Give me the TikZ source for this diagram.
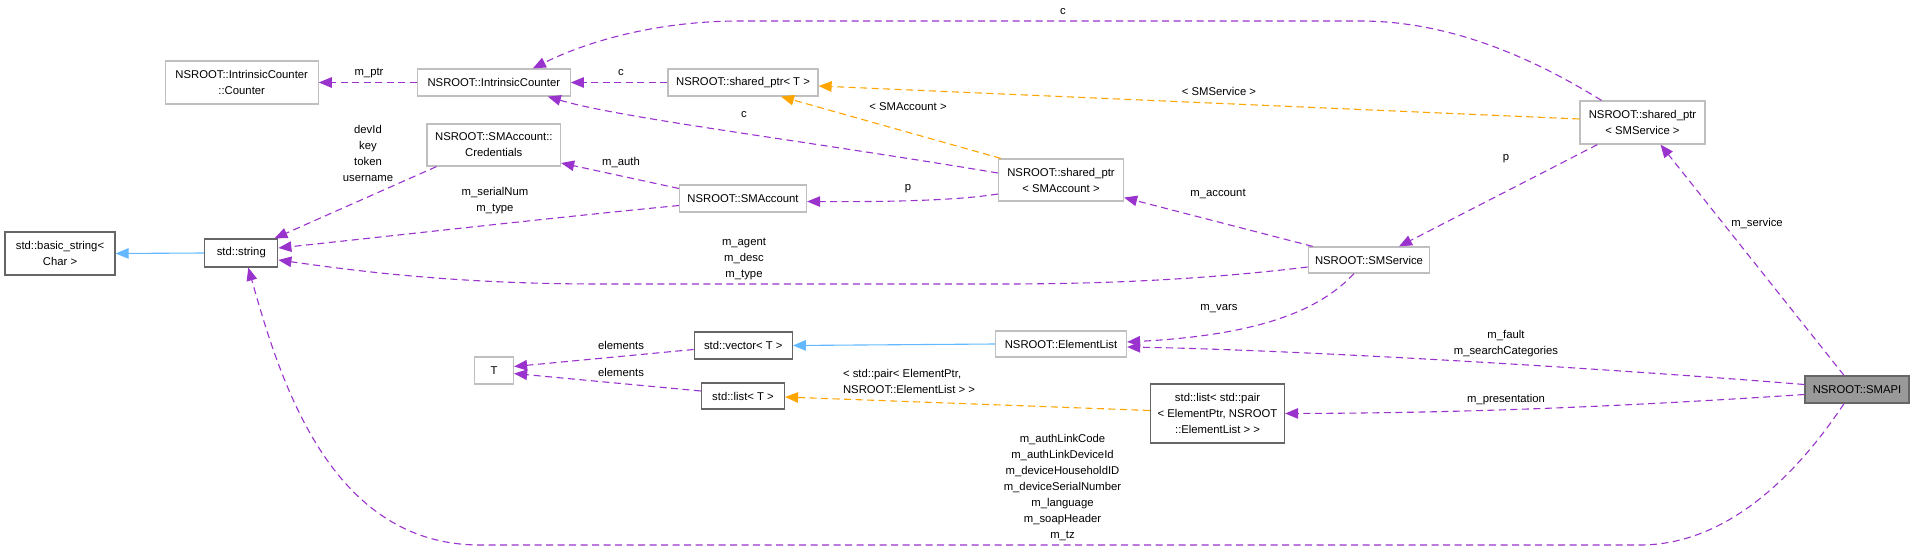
\documentclass[tikz,border=0pt]{standalone}
\usepackage{fontspec}
\setmainfont{Liberation Sans}
\usepackage{xcolor}
\usepackage{tikz}
\usetikzlibrary{positioning,arrows.meta,calc}
\definecolor{edgepurple}{HTML}{9A32CD}
\definecolor{edgeorange}{HTML}{FFA500}
\definecolor{edgeblue}{HTML}{63B8FF}
\definecolor{boxlight}{HTML}{BFBFBF}
\definecolor{boxdark}{HTML}{666666}
\definecolor{boxfill}{HTML}{999999}
\newcommand{\dxfont}{\fontsize{11.3}{16}\selectfont}

\begin{document}
\begin{tikzpicture}[
    x=1pt, y=-1pt,
    >={Stealth[length=13pt, width=10.5pt, inset=0pt]},
    cls/.style={
        rectangle, draw=boxlight, fill=white, line width=1.2pt,
        font=\dxfont, align=center, inner sep=0pt
    },
    clsd/.style={cls, draw=boxdark},
    parr/.style={->, line width=1.1pt, edgepurple, dash pattern=on 7pt off 4.5pt},
    oarr/.style={->, line width=1.1pt, edgeorange, dash pattern=on 7pt off 4.5pt},
    barr/.style={->, line width=1.1pt, edgeblue},
    lbl/.style={font=\dxfont, align=center, inner sep=0pt},
]
\useasboundingbox (0,0) rectangle (1914,551);

% ── Column 1-2: strings ──
\node[clsd, minimum width=110pt, minimum height=43pt] (bstr) at (60,253.5)
    {std::basic\_string<\\Char >};
\node[clsd, minimum width=73pt, minimum height=28pt] (str) at (241.3,253)
    {std::string};
\node[cls, minimum width=153pt, minimum height=43pt] (counter) at (241.7,82.5)
    {NSROOT::IntrinsicCounter\\::Counter};

% ── Column 3 ──
\node[cls, minimum width=153pt, minimum height=27pt] (ic) at (493.8,82.5)
    {NSROOT::IntrinsicCounter};
\node[cls, minimum width=133.5pt, minimum height=42pt] (creds) at (493.8,145)
    {NSROOT::SMAccount::\\Credentials};
\node[cls, minimum width=39pt, minimum height=27pt] (T) at (494,370.5) {T};

% ── Column 4 ──
\node[cls, minimum width=150pt, minimum height=27pt] (spT) at (743,82.5)
    {NSROOT::shared\_ptr< T >};
\node[cls, minimum width=127pt, minimum height=27pt] (acct) at (743,198.5)
    {NSROOT::SMAccount};
\node[clsd, minimum width=98pt, minimum height=27pt] (vec) at (743.3,345.5)
    {std::vector< T >};
\node[clsd, minimum width=83pt, minimum height=26pt] (lst) at (743,396)
    {std::list< T >};

% ── Column 5-6 ──
\node[cls, minimum width=125pt, minimum height=42pt] (spAcct) at (1061,180)
    {NSROOT::shared\_ptr\\< SMAccount >};
\node[cls, minimum width=131pt, minimum height=26pt] (elist) at (1061,344)
    {NSROOT::ElementList};
\node[clsd, minimum width=134pt, minimum height=59pt] (plist) at (1217.5,413.5)
    {std::list< std::pair\\< ElementPtr, NSROOT\\::ElementList > >};

% ── Column 7-9 ──
\node[cls, minimum width=121.5pt, minimum height=26pt] (svc) at (1369,260)
    {NSROOT::SMService};
\node[cls, minimum width=125pt, minimum height=43pt] (spSvc) at (1642.5,122.5)
    {NSROOT::shared\_ptr\\< SMService >};
\node[clsd, fill=boxfill, minimum width=104pt, minimum height=27pt] (smapi) at (1857,389.5)
    {NSROOT::SMAPI};

% ── Inheritance ──
\draw[barr] (str.west) -- (bstr.east);
\draw[barr] (elist.west) -- (vec.east);

% ── Template instances ──
\draw[oarr] ($(spSvc.west)+(0,-3.5)$) -- ($(spT.east)+(0,3.5)$);
\draw[oarr] ($(spAcct.north west)+(3,0)$) -- ($(spT.south)+(38,0)$);
\draw[oarr] ($(plist.west)+(0,-3)$) -- ($(lst.east)+(0,1)$);

% ── Members ──
\draw[parr] (ic.west) -- (counter.east);
\draw[parr] (spT.west) -- (ic.east);
\draw[parr] ($(spAcct.west)+(0,-7)$)
    .. controls (800,140) and (620,118) .. ($(ic.south)+(54,0)$);
\draw[parr] ($(spSvc.north)+(-41,0)$)
    .. controls (1520,50) and (1440,21) .. (1360,21) -- (740,21)
    .. controls (660,21) and (590,40) .. ($(ic.north)+(39,0)$);
\draw[parr] ($(acct.west)+(0,-10)$) -- ($(creds.east)+(0,18)$);
\draw[parr] ($(creds.south west)+(10,0)$) -- ($(str.north east)+(-4,0)$);
\draw[parr] ($(acct.west)+(0,7)$)
    .. controls (550,218) and (400,235) .. ($(str.east)+(0,-5)$);
\draw[parr] ($(svc.west)+(0,7)$)
    .. controls (1200,280) and (1100,284) .. (1000,284) -- (600,284)
    .. controls (450,284) and (350,270) .. ($(str.east)+(0,7)$);
\draw[parr] ($(smapi.south)+(-13,0)$)
    .. controls (1800,470) and (1730,545) .. (1640,545) -- (480,545)
    .. controls (330,545) and (280,380) .. ($(str.south)+(7,0)$);
\draw[parr] ($(spAcct.west)+(0,14)$)
    .. controls (960,200) and (900,202) .. ($(acct.east)+(0,3)$);
\draw[parr] ($(svc.north west)+(5,0)$) -- ($(spAcct.south east)+(0,-4)$);
\draw[parr] ($(spSvc.south west)+(18,0)$) -- ($(svc.north)+(30,0)$);
\draw[parr] ($(smapi.north)+(-13,0)$) -- ($(spSvc.south)+(18,0)$);
\draw[parr] ($(svc.south)+(-15,0)$)
    .. controls (1320,310) and (1260,335) .. ($(elist.east)+(0,-2)$);
\draw[parr] ($(smapi.west)+(0,-5)$)
    .. controls (1600,368) and (1300,350) .. ($(elist.east)+(0,3)$);
\draw[parr] ($(smapi.west)+(0,5)$)
    .. controls (1600,408) and (1450,413) .. (plist.east);
\draw[parr] ($(vec.west)+(0,4)$) -- ($(T.east)+(0,-4)$);
\draw[parr] ($(lst.west)+(0,-5)$) -- ($(T.east)+(0,3)$);

% ── Edge labels ──
\node[lbl] (lptr)    at (369,73)   {m\_ptr};
\node[lbl] (lc1)     at (621,73)   {c};
\node[lbl] (lc2)     at (1063,12)  {c};
\node[lbl] (lc3)     at (744,115)  {c};
\node[lbl] (lacc)    at (908,107)  {< SMAccount >};
\node[lbl] (lsvc)    at (1219,91)  {< SMService >};
\node[lbl] (lcred)   at (368,153)  {devId\\key\\token\\username};
\node[lbl] (lauth)   at (621,163)  {m\_auth};
\node[lbl] (lser)    at (495,201)  {m\_serialNum\\m\_type};
\node[lbl] (lp1)     at (908,189)  {p};
\node[lbl] (laccount) at (1218,194) {m\_account};
\node[lbl] (lagent)  at (744,259)  {m\_agent\\m\_desc\\m\_type};
\node[lbl] (lp2)     at (1506,159) {p};
\node[lbl] (lservice) at (1757,224) {m\_service};
\node[lbl] (lvars)   at (1219,309) {m\_vars};
\node[lbl] (lfault)  at (1506,344) {m\_fault\\m\_searchCategories};
\node[lbl] (lpres)   at (1506,400) {m\_presentation};
\node[lbl] (lel1)    at (621,345)  {elements};
\node[lbl] (lel2)    at (621,372)  {elements};
\node[lbl, align=left] (lpair) at (909,381)
    {< std::pair< ElementPtr,\\NSROOT::ElementList > >};
\node[lbl] (lapi)    at (1062.5,488)
    {m\_authLinkCode\\m\_authLinkDeviceId\\m\_deviceHouseholdID\\m\_deviceSerialNumber\\m\_language\\m\_soapHeader\\m\_tz};

\end{tikzpicture}
\end{document}
